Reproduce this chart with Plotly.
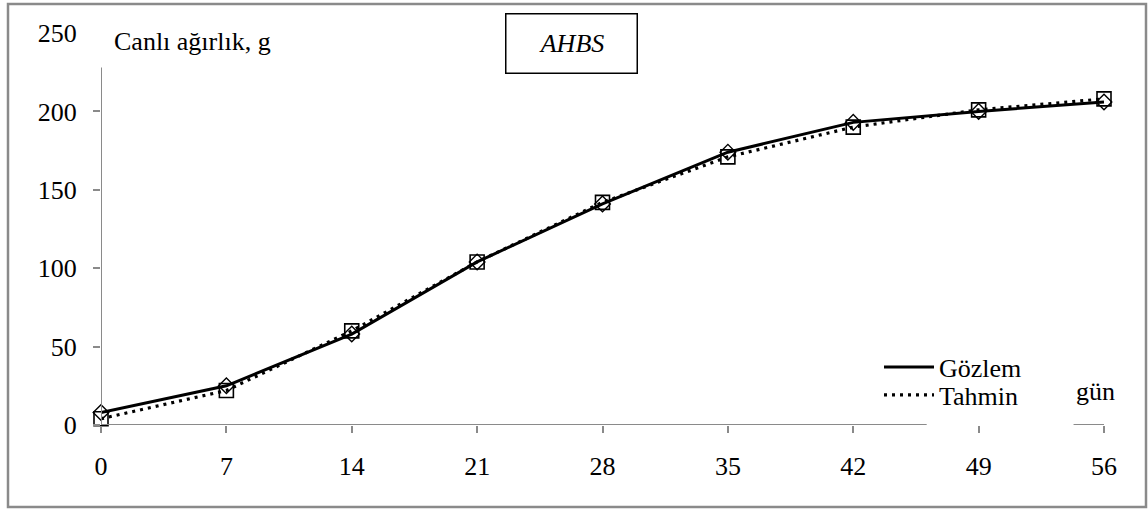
import plotly.graph_objects as go

# Canlı ağırlık (g) by age (gün): observed vs. model estimate
days = [0, 7, 14, 21, 28, 35, 42, 49, 56]
gozlem = [8, 25, 58, 104, 141, 174, 193, 200, 206]
tahmin = [4, 22, 60, 104, 142, 171, 190, 201, 208]
y_ticks = [0, 50, 100, 150, 200]
y_top_tick = [250]

W, H = 1148, 509
L, R, T, B = 101, 44, 33, 84
PW, PH = W - L - R, H - T - B
FONT = "Liberation Serif, Times New Roman, DejaVu Serif, serif"
GRAY = "#8a8a8a"


def px_x(p):
    return (p - L) / PW


def px_y(p):
    return (H - B - p) / PH


fig = go.Figure()

fig.add_trace(go.Scatter(
    x=days, y=tahmin, mode="lines", name="Tahmin",
    line=dict(color="black", width=3.2, dash="3px,5px"),
    legend="legend2", cliponaxis=False))
fig.add_trace(go.Scatter(
    x=days, y=gozlem, mode="lines", name="Gözlem",
    line=dict(color="black", width=3), legend="legend", cliponaxis=False))
fig.add_trace(go.Scatter(
    x=days, y=tahmin, mode="markers", showlegend=False, cliponaxis=False,
    marker=dict(symbol="square-open", size=14, color="black",
                line=dict(color="black", width=1.6))))
fig.add_trace(go.Scatter(
    x=days, y=gozlem, mode="markers", showlegend=False, cliponaxis=False,
    marker=dict(symbol="diamond-open", size=12, color="black",
                line=dict(color="black", width=1.4))))
# helper trace so the 250 label lives on its own tickless axis
fig.add_trace(go.Scatter(x=[None], y=[None], yaxis="y2", showlegend=False,
                         hoverinfo="skip"))

tickfont = dict(family=FONT, size=26, color="black")
legfont = dict(family=FONT, size=26, color="black")

fig.update_layout(
    width=W, height=H,
    margin=dict(l=L, r=R, t=T, b=B),
    paper_bgcolor="white", plot_bgcolor="white",
    xaxis=dict(range=[0, 56], tickvals=days, ticks="outside", ticklen=7,
               tickwidth=2, tickcolor=GRAY, showline=False, showgrid=False,
               zeroline=False, tickfont=tickfont, ticklabelstandoff=11),
    yaxis=dict(range=[0, 250], tickvals=y_ticks, ticks="outside", ticklen=7,
               tickwidth=2, tickcolor=GRAY, showline=False, showgrid=False,
               zeroline=False, tickfont=tickfont, ticklabelstandoff=11),
    yaxis2=dict(range=[0, 250], tickvals=y_top_tick, overlaying="y",
                side="left", ticks="outside", ticklen=7,
                tickcolor="rgba(0,0,0,0)", showline=False, showgrid=False,
                zeroline=False, tickfont=tickfont, ticklabelstandoff=11),
    legend=dict(x=px_x(879), y=px_y(367), xanchor="left", yanchor="middle",
                itemwidth=50, bgcolor="rgba(0,0,0,0)", font=legfont),
    legend2=dict(x=px_x(879), y=px_y(395), xanchor="left", yanchor="middle",
                 itemwidth=50, bgcolor="rgba(0,0,0,0)", font=legfont),
    showlegend=True,
)

shapes = [
    # outer frame
    dict(type="rect", xref="paper", yref="paper",
         x0=px_x(8), x1=px_x(1146), y0=px_y(507), y1=px_y(4),
         line=dict(color=GRAY, width=2.5), layer="below"),
    # y axis line
    dict(type="line", xref="x", yref="y", x0=0, x1=0, y0=0, y1=228,
         line=dict(color=GRAY, width=2)),
    # x axis line, broken under the legend and the unit label
    dict(type="line", xref="x", yref="y", x0=0, x1=46.1, y0=0, y1=0,
         line=dict(color=GRAY, width=2)),
    dict(type="line", xref="x", yref="y", x0=54.3, x1=56, y0=0, y1=0,
         line=dict(color=GRAY, width=2)),
]
fig.update_layout(shapes=shapes)

fig.add_annotation(
    text="<i>AHBS</i>", xref="paper", yref="paper",
    x=px_x(571), y=px_y(44), xanchor="center", yanchor="middle",
    showarrow=False, font=dict(family=FONT, size=26, color="black"),
    width=128, height=56, bordercolor="black", borderwidth=1.5,
    bgcolor="white")
fig.add_annotation(
    text="Canlı ağırlık, g", xref="paper", yref="paper",
    x=px_x(112), y=px_y(41), xanchor="left", yanchor="middle",
    showarrow=False, font=dict(family=FONT, size=26, color="black"))
fig.add_annotation(
    text="gün", xref="paper", yref="paper",
    x=px_x(1095), y=px_y(391), xanchor="center", yanchor="middle",
    showarrow=False, font=dict(family=FONT, size=26, color="black"))

fig.write_html("out.html")
